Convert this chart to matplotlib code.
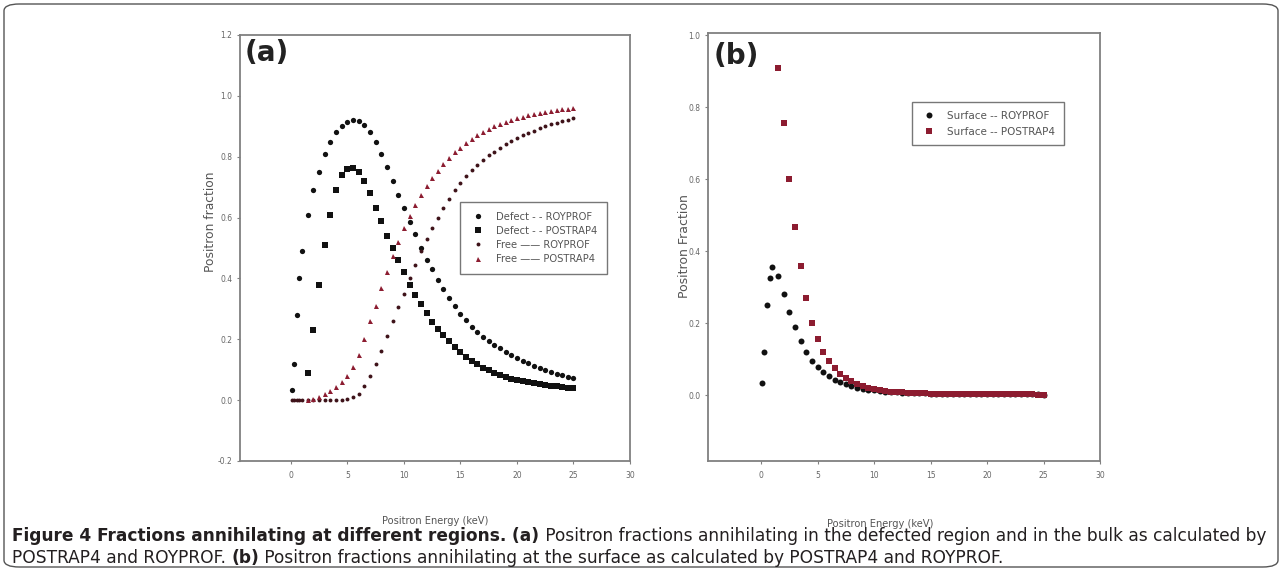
import matplotlib
matplotlib.use('Agg')
import matplotlib.pyplot as plt
from matplotlib.patches import FancyBboxPatch

# ---------------- data ----------------
E_roy = [0.1, 0.25, 0.5, 0.75, 1.0, 1.5, 2.0, 2.5, 3.0, 3.5, 4.0, 4.5, 5.0, 5.5, 6.0, 6.5,
         7.0, 7.5, 8.0, 8.5, 9.0, 9.5, 10.0, 10.5, 11.0, 11.5, 12.0, 12.5, 13.0, 13.5, 14.0,
         14.5, 15.0, 15.5, 16.0, 16.5, 17.0, 17.5, 18.0, 18.5, 19.0, 19.5, 20.0, 20.5, 21.0,
         21.5, 22.0, 22.5, 23.0, 23.5, 24.0, 24.5, 25.0]
E_pos = [1.5, 2.0, 2.5, 3.0, 3.5, 4.0, 4.5, 5.0, 5.5, 6.0, 6.5,
         7.0, 7.5, 8.0, 8.5, 9.0, 9.5, 10.0, 10.5, 11.0, 11.5, 12.0, 12.5, 13.0, 13.5, 14.0,
         14.5, 15.0, 15.5, 16.0, 16.5, 17.0, 17.5, 18.0, 18.5, 19.0, 19.5, 20.0, 20.5, 21.0,
         21.5, 22.0, 22.5, 23.0, 23.5, 24.0, 24.5, 25.0]

defect_roy = [0.033, 0.12, 0.28, 0.40, 0.49, 0.61, 0.69, 0.75, 0.81, 0.85, 0.88, 0.90, 0.915,
              0.922, 0.918, 0.905, 0.88, 0.85, 0.81, 0.765, 0.72, 0.675, 0.63, 0.585, 0.545,
              0.50, 0.46, 0.43, 0.395, 0.365, 0.335, 0.308, 0.283, 0.262, 0.242, 0.225, 0.209,
              0.195, 0.182, 0.17, 0.158, 0.148, 0.138, 0.129, 0.121, 0.113, 0.106, 0.099,
              0.093, 0.087, 0.082, 0.077, 0.072]
defect_pos = [0.09, 0.23, 0.38, 0.51, 0.61, 0.69, 0.74, 0.76, 0.762, 0.75, 0.72, 0.68, 0.63,
              0.59, 0.54, 0.50, 0.46, 0.42, 0.38, 0.345, 0.315, 0.285, 0.258, 0.235, 0.213,
              0.193, 0.175, 0.158, 0.143, 0.13, 0.118, 0.107, 0.098, 0.09, 0.083, 0.077, 0.071,
              0.066, 0.062, 0.058, 0.055, 0.052, 0.049, 0.047, 0.045, 0.043, 0.041, 0.04]
free_roy = [0.0, 0.0, 0.0, 0.0, 0.0, 0.0, 0.0, 0.0, 0.0, 0.0, 0.001, 0.002, 0.004, 0.01, 0.02,
            0.045, 0.08, 0.12, 0.16, 0.21, 0.26, 0.305, 0.35, 0.40, 0.445, 0.49, 0.53, 0.565,
            0.60, 0.632, 0.662, 0.69, 0.715, 0.737, 0.757, 0.774, 0.79, 0.804, 0.817, 0.829,
            0.841, 0.851, 0.861, 0.87, 0.878, 0.886, 0.893, 0.9, 0.906, 0.912, 0.917, 0.922, 0.927]
free_pos = [0.0, 0.004, 0.01, 0.02, 0.03, 0.042, 0.058, 0.08, 0.11, 0.15, 0.2, 0.26, 0.31, 0.37,
            0.42, 0.475, 0.52, 0.565, 0.605, 0.642, 0.674, 0.704, 0.73, 0.754, 0.776, 0.796,
            0.814, 0.83, 0.845, 0.858, 0.87, 0.881, 0.891, 0.9, 0.908, 0.915, 0.921, 0.927,
            0.932, 0.937, 0.941, 0.945, 0.948, 0.951, 0.954, 0.956, 0.958, 0.96]
surface_roy = [0.033, 0.12, 0.25, 0.325, 0.355, 0.33, 0.28, 0.23, 0.19, 0.15, 0.12, 0.095, 0.078,
               0.063, 0.052, 0.043, 0.036, 0.030, 0.025, 0.021, 0.018, 0.015, 0.013, 0.011,
               0.0095, 0.0085, 0.0075, 0.0068, 0.006, 0.0055, 0.005, 0.0046, 0.0042, 0.0039,
               0.0036, 0.0034, 0.0032, 0.003, 0.0028, 0.0027, 0.0026, 0.0025, 0.0024, 0.0023,
               0.0022, 0.0021, 0.002, 0.002, 0.0019, 0.0019, 0.0018, 0.0018, 0.0017]
surface_pos = [0.91, 0.755, 0.60, 0.467, 0.358, 0.27, 0.20, 0.155, 0.12, 0.095, 0.075, 0.06,
               0.048, 0.039, 0.032, 0.026, 0.021, 0.017, 0.014, 0.012, 0.010, 0.0085, 0.0075,
               0.0066, 0.0058, 0.0052, 0.0047, 0.0043, 0.0039, 0.0036, 0.0033, 0.0031, 0.0029,
               0.0027, 0.0026, 0.0025, 0.0024, 0.0023, 0.0022, 0.0021, 0.002, 0.002, 0.0019,
               0.0019, 0.0018, 0.0018, 0.0017, 0.0017]

legend_a = ['Defect - - ROYPROF', 'Defect - - POSTRAP4', 'Free \u2014\u2014 ROYPROF', 'Free \u2014\u2014 POSTRAP4']
legend_b = ['Surface -- ROYPROF', 'Surface -- POSTRAP4']
xticks = [0, 5, 10, 15, 20, 25, 30]
yticks_a = [-0.2, 0.0, 0.2, 0.4, 0.6, 0.8, 1.0, 1.2]
yticks_b = [0.0, 0.2, 0.4, 0.6, 0.8, 1.0]

# ---------------- style ----------------
W, H = 1282, 571
fig = plt.figure(figsize=(W / 100, H / 100), dpi=100)
plt.rcParams['font.family'] = ['DejaVu Sans']
RED = '#8c1c30'
DARKRED = '#3e1219'
BLK = '#111111'
SPINE = '#808080'
TICKC = '#666666'
TXT = '#555555'


def px_axes(l, t, r, b):
    return fig.add_axes([l / W, 1 - b / H, (r - l) / W, (b - t) / H])


def style(ax):
    for s in ax.spines.values():
        s.set_color(SPINE)
        s.set_linewidth(1.3)
    ax.tick_params(direction='out', length=2.5, width=0.8, color=SPINE,
                   labelsize=5.5, labelcolor=TICKC)
    ax.tick_params(axis='x', pad=4.5)
    ax.tick_params(axis='y', pad=3.0)


def style_legend(leg):
    leg.get_frame().set_edgecolor(TXT)
    leg.get_frame().set_linewidth(1.0)
    for t in leg.get_texts():
        t.set_color(TXT)


# ---------------- panel (a) ----------------
ax = px_axes(240, 35, 630, 461)
ax.plot(E_roy, defect_roy, 'o', color=BLK, ms=3.8, mew=0, label=legend_a[0])
ax.plot(E_pos, defect_pos, 's', color=BLK, ms=3.7, mew=0, label=legend_a[1])
ax.plot(E_roy, free_roy, 'o', color=DARKRED, ms=2.8, mew=0, label=legend_a[2])
ax.plot(E_pos, free_pos, '^', color=RED, ms=3.6, mew=0, label=legend_a[3])
ax.set_xlim(-4.5, 30)
ax.set_ylim(-0.2, 1.2)
ax.set_xticks(xticks)
ax.set_yticks(yticks_a)
ax.set_yticklabels(['%.1f' % v for v in yticks_a])
style(ax)
leg = ax.legend(loc='upper left', bbox_to_anchor=((460 - 240) / 390, (461 - 202) / 426),
                prop={'family': 'DejaVu Sans', 'size': 7.2}, frameon=True, fancybox=False,
                borderpad=0.95, labelspacing=0.42, handlelength=1.6, handletextpad=1.1,
                borderaxespad=0)
style_legend(leg)
ax.text((245 - 240) / 390, (461 - 39) / 426, '(a)', transform=ax.transAxes,
        fontsize=20, fontweight='bold', ha='left', va='top', color='#222222')
fig.text(435 / W, 1 - 521 / H, 'Positron Energy (keV)', fontsize=7.1, color=TXT,
         ha='center', va='center')
fig.text(211 / W, 1 - 222 / H, 'Positron fraction', fontsize=8.8, color=TXT,
         ha='center', va='center', rotation=90)

# ---------------- panel (b) ----------------
bx = px_axes(708, 33, 1100, 461)
bx.plot(E_roy, surface_roy, 'o', color=BLK, ms=4.3, mew=0, label=legend_b[0])
bx.plot(E_pos, surface_pos, 's', color=RED, ms=4.6, mew=0, label=legend_b[1])
bx.set_xlim(-4.7, 30)
bx.set_ylim(-0.183, 1.006)
bx.set_xticks(xticks)
bx.set_yticks(yticks_b)
bx.set_yticklabels(['%.1f' % v for v in yticks_b])
style(bx)
legb = bx.legend(loc='upper left', bbox_to_anchor=((912 - 708) / 392, (461 - 102) / 428),
                 prop={'family': 'DejaVu Sans', 'size': 7.5}, frameon=True, fancybox=False,
                 borderpad=0.85, labelspacing=0.55, handlelength=1.6, handletextpad=0.9,
                 borderaxespad=0)
style_legend(legb)
bx.text((714 - 708) / 392, (461 - 42) / 428, '(b)', transform=bx.transAxes,
        fontsize=20, fontweight='bold', ha='left', va='top', color='#222222')
fig.text(880 / W, 1 - 524 / H, 'Positron Energy (keV)', fontsize=7.1, color=TXT,
         ha='center', va='center')
fig.text(684 / W, 1 - 246 / H, 'Positron Fraction', fontsize=9.0, color=TXT,
         ha='center', va='center', rotation=90)

# ---------------- frame ----------------
frame = FancyBboxPatch((4 / W, 4 / H), (W - 8) / W, (H - 8) / H,
                       boxstyle='round,pad=0,rounding_size=0.012',
                       transform=fig.transFigure, fill=False, edgecolor=TXT,
                       linewidth=1.0)
fig.patches.append(frame)

# ---------------- caption ----------------
line1 = [('Figure 4 Fractions annihilating at different regions.', True), (' (a)', True),
         (' Positron fractions annihilating in the defected region and in the bulk as calculated by', False)]
line2 = [('POSTRAP4 and ROYPROF. ', False), ('(b)', True),
         (' Positron fractions annihilating at the surface as calculated by POSTRAP4 and ROYPROF.', False)]

fig.canvas.draw()
renderer = fig.canvas.get_renderer()
CAPFONT = ['DejaVu Sans']


def draw_line(pieces, x0, ybase, size):
    x = x0
    made = []
    for txt, bold in pieces:
        t = fig.text(x / W, 1 - ybase / H, txt, fontsize=size, family=CAPFONT,
                     fontweight='bold' if bold else 'normal', ha='left', va='baseline',
                     color='#231f20')
        bb = t.get_window_extent(renderer=renderer)
        x = bb.x1
        made.append(t)
    return made, x


tmp, xend = draw_line(line1, 12, 541, 10)
for t in tmp:
    t.remove()
size = 10 * (1268 - 12) / (xend - 12)
draw_line(line1, 12, 541, size)
draw_line(line2, 12, 563, size)

fig.savefig('out.png', dpi=100)
